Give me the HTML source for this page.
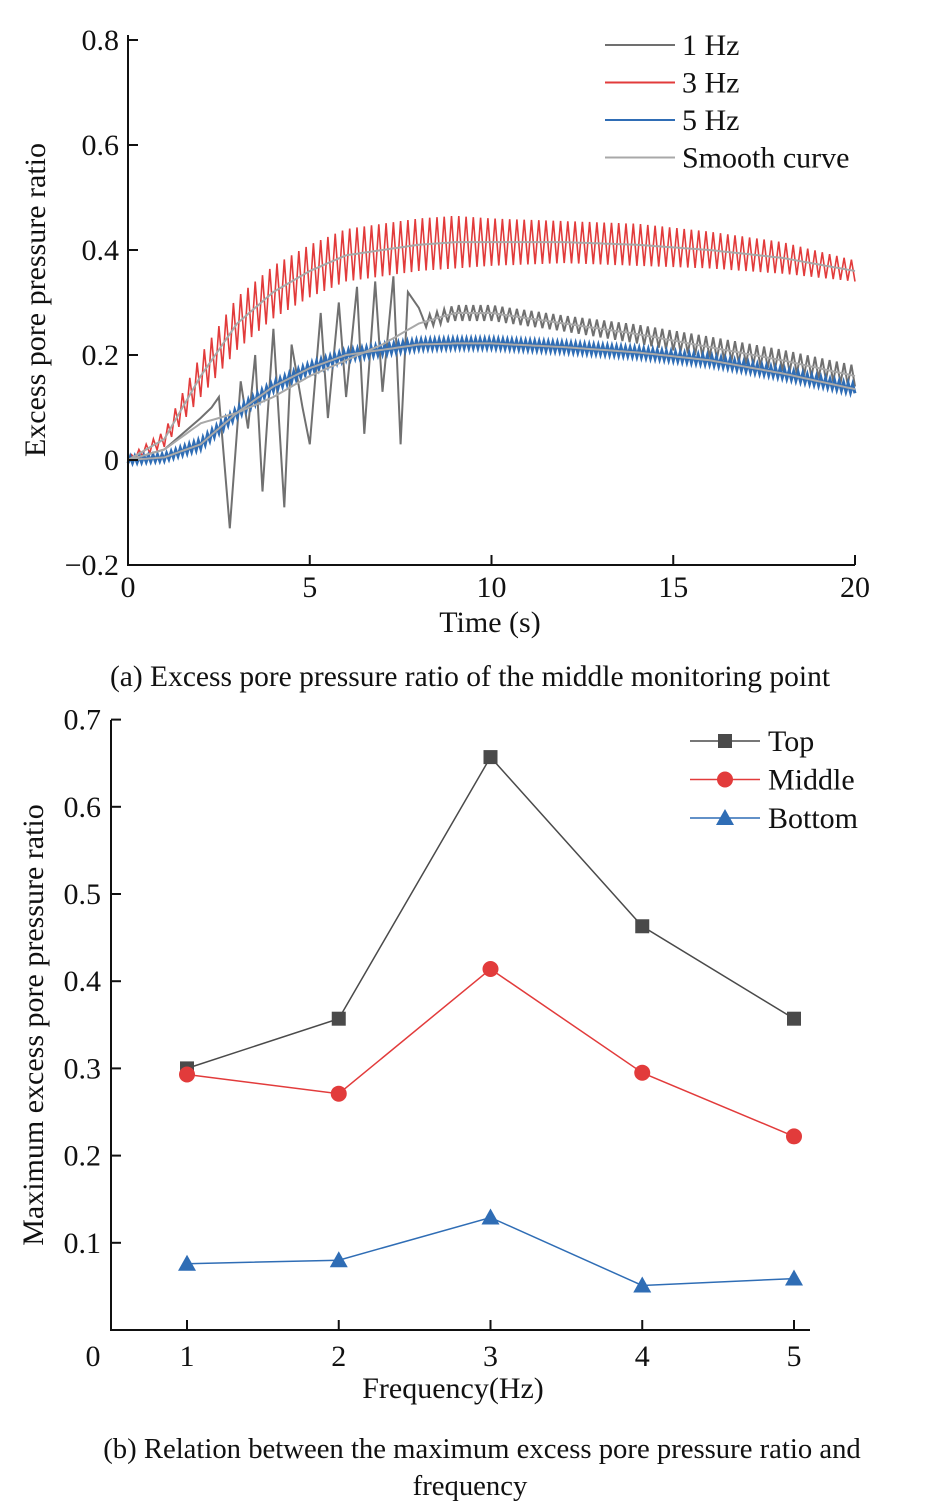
<!DOCTYPE html>
<html><head><meta charset="utf-8"><style>
body{margin:0;background:#fff}
svg{display:block;font-family:"Liberation Serif",serif}
</style></head><body>
<svg id="s" width="927" height="1505" viewBox="0 0 927 1505" xmlns="http://www.w3.org/2000/svg"></svg>
<script>
// ===== Chart (a) data =====
const smoothT=[0,1,2,3,4,5,6,7,8,9,10,12,14,16,18,20];
const smooth3=[0,0.04,0.16,0.26,0.32,0.36,0.39,0.40,0.41,0.415,0.415,0.415,0.41,0.40,0.385,0.36];
const smooth5=[0,0.005,0.03,0.09,0.14,0.175,0.20,0.21,0.22,0.222,0.222,0.215,0.205,0.19,0.165,0.135];
const smooth1=[0,0.02,0.07,0.09,0.12,0.16,0.19,0.22,0.26,0.28,0.28,0.26,0.24,0.215,0.19,0.16];
const amp3=[0.005,0.015,0.04,0.05,0.05,0.05,0.05,0.05,0.05,0.05,0.045,0.04,0.04,0.035,0.03,0.02];
const amp5=[0.006,0.006,0.008,0.008,0.008,0.008,0.008,0.008,0.008,0.008,0.008,0.008,0.008,0.008,0.008,0.008];
const amp1=[0.005,0.005,0.01,0.01,0.01,0.01,0.01,0.01,0.01,0.015,0.015,0.015,0.018,0.02,0.02,0.02];
const raw1T=[0,0.5,1,1.5,2,2.3,2.5,2.8,3.1,3.3,3.5,3.7,4.0,4.3,4.5,4.8,5.0,5.3,5.5,5.8,6.0,6.3,6.5,6.8,7.0,7.3,7.5,7.7,8.0];
const raw1V=[0,0.01,0.02,0.05,0.08,0.1,0.12,-0.13,0.15,0.06,0.2,-0.06,0.25,-0.09,0.22,0.1,0.03,0.28,0.08,0.3,0.12,0.33,0.05,0.34,0.13,0.35,0.03,0.32,0.29];
const xTicksA=[0,5,10,15,20];
const yTicksA=[0.8,0.6,0.4,0.2,0,-0.2];
const yTickLabA=["0.8","0.6","0.4","0.2","0","\u22120.2"];
// ===== Chart (b) data =====
const freqs=[1,2,3,4,5];
const topV=[0.300,0.357,0.657,0.463,0.357];
const midV=[0.293,0.271,0.414,0.295,0.222];
const botV=[0.076,0.080,0.129,0.051,0.059];
const yTicksB=[0.7,0.6,0.5,0.4,0.3,0.2,0.1];

const FS=30;
const NS="http://www.w3.org/2000/svg";
const svg=document.getElementById('s');
function el(tag,attrs,parent){const e=document.createElementNS(NS,tag);for(const k in attrs)e.setAttribute(k,attrs[k]);(parent||svg).appendChild(e);return e;}
function txt(s,x,y,size,anchor,parent){const t=el('text',{x:x,y:y,'font-size':size,'text-anchor':anchor||'middle',fill:'#111'},parent);t.textContent=s;return t;}

const xA=t=>128+t*(727/20);
const yA=v=>460-v*525;
function interp(T,V,t){for(let i=0;i<T.length-1;i++){if(t<=T[i+1]){const f=(t-T[i])/(T[i+1]-T[i]);return V[i]+f*(V[i+1]-V[i]);}}return V[V.length-1];}

const gA=el('g',{});



function noisy(base,amp,freq,color,name,w){
  let d='';const n=Math.round(20*freq*2);
  for(let i=0;i<=n;i++){const t=i*20/n;const s=(i%2?1:-1);const v=interp(smoothT,base,t)+s*interp(smoothT,amp,t);d+=(i?'L':'M')+xA(t).toFixed(1)+','+yA(v).toFixed(1);}
  const p=el('path',{d:d,fill:'none',stroke:color,'stroke-width':w||1.5},gA);
  
  
}
function smoothLine(V,name){
  let d='';for(let i=0;i<=200;i++){const t=i/10;d+=(i?'L':'M')+xA(t).toFixed(1)+','+yA(interp(smoothT,V,t)).toFixed(1);}
  const p=el('path',{d:d,fill:'none',stroke:'#a8a8a8','stroke-width':2},gA);
  
  
}
(function(){
  let d='';
  raw1T.forEach((t,i)=>{d+=(i?'L':'M')+xA(t).toFixed(1)+','+yA(raw1V[i]).toFixed(1);});
  const n=Math.round(12*10);
  for(let i=1;i<=n;i++){const t=8+i*12/n;const s=(i%2?1:-1);d+='L'+xA(t).toFixed(1)+','+yA(interp(smoothT,smooth1,t)+s*interp(smoothT,amp1,t)).toFixed(1);}
  const p=el('path',{d:d,fill:'none',stroke:'#707070','stroke-width':2},gA);
  
  
})();
noisy(smooth3,amp3,5,'#e23b3b','series-3hz',1.6);
noisy(smooth5,amp5,8,'#2f6db5','series-5hz',3);
smoothLine(smooth1,'smooth-curve-1hz');
smoothLine(smooth3,'smooth-curve-3hz');
smoothLine(smooth5,'smooth-curve-5hz');

const axA=el('path',{d:'M128,35V565H855',fill:'none',stroke:'#111','stroke-width':2},gA);


yTicksA.forEach((v,i)=>{
  const l=el('line',{x1:128,x2:138,y1:yA(v),y2:yA(v),stroke:'#111','stroke-width':2},gA);
  
  
  const t=txt(yTickLabA[i],119,yA(v)+10,FS,'end',gA);
  
  
});
xTicksA.forEach(v=>{
  const l=el('line',{x1:xA(v),x2:xA(v),y1:565,y2:555,stroke:'#111','stroke-width':2},gA);
  
  
  const t=txt(String(v),xA(v),597,FS,'middle',gA);
  
  
});
let t1=txt('Time (s)',490,632,FS,'middle',gA);

let t2=txt('Excess pore pressure ratio',0,0,FS,'middle',gA);
t2.setAttribute('transform','translate(45,300) rotate(-90)');

[['1 Hz','#707070'],['3 Hz','#e23b3b'],['5 Hz','#2f6db5'],['Smooth curve','#a8a8a8']].forEach((e,i)=>{
  const y=45+i*37.5;
  const l=el('line',{x1:605,x2:675,y1:y,y2:y,stroke:e[1],'stroke-width':2},gA);
  
  const t=txt(e[0],682,y+10,FS,'start',gA);
  
});
let c1=txt('(a) Excess pore pressure ratio of the middle monitoring point',470,686,29.5,'middle');


// ===== chart (b) =====
const gB=el('g',{});


const xB=f=>187+(f-1)*151.75;
const yB=v=>1330-v*872;
const axB=el('path',{d:'M111,720V1330H810',fill:'none',stroke:'#111','stroke-width':2},gB);

yTicksB.forEach(v=>{
  const l=el('line',{x1:111,x2:121,y1:yB(v),y2:yB(v),stroke:'#111','stroke-width':2},gB);
  
  const t=txt(v.toFixed(1),101,yB(v)+10,FS,'end',gB);
  
});
let z=txt('0',93,1366,FS,'middle',gB);

freqs.forEach(f=>{
  const l=el('line',{x1:xB(f),x2:xB(f),y1:1330,y2:1320,stroke:'#111','stroke-width':2},gB);
  
  const t=txt(String(f),xB(f),1366,FS,'middle',gB);
  
});
function marker(type,x,y,color,parent){
  let m;
  if(type==='sq')m=el('rect',{x:x-7,y:y-7,width:14,height:14,fill:color},parent);
  else if(type==='ci')m=el('circle',{cx:x,cy:y,r:8,fill:color},parent);
  else m=el('polygon',{points:`${x},${y-9} ${x+9},${y+7} ${x-9},${y+7}`,fill:color},parent);
  return m;
}
function seriesB(vals,color,type,name){
  const d=vals.map((v,i)=>(i?'L':'M')+xB(freqs[i])+','+yB(v).toFixed(1)).join('');
  const p=el('path',{d:d,fill:'none',stroke:color,'stroke-width':1.5},gB);
  
  vals.forEach((v,i)=>{const m=marker(type,xB(freqs[i]),yB(v),color,gB);
    
    });
}
seriesB(topV,'#4a4a4a','sq','top');
seriesB(midV,'#e23b3b','ci','middle');
seriesB(botV,'#2f6db5','tr','bottom');
[['Top','#4a4a4a','sq'],['Middle','#e23b3b','ci'],['Bottom','#2f6db5','tr']].forEach((e,i)=>{
  const y=741+i*38.5;
  const l=el('line',{x1:690,x2:760,y1:y,y2:y,stroke:e[1],'stroke-width':1.5},gB);
  
  const m=marker(e[2],725,y,e[1],gB);
  
  const t=txt(e[0],768,y+10,FS,'start',gB);
  
});
let t3=txt('Frequency(Hz)',453,1398,FS,'middle',gB);

let t4=txt('Maximum excess pore pressure ratio',0,0,FS,'middle',gB);
t4.setAttribute('transform','translate(43,1025) rotate(-90)');

let c2=txt('(b) Relation between the maximum excess pore pressure ratio and',482,1458,28.7,'middle');

let c3=txt('frequency',470,1495,28.7,'middle');

</script>
</body></html>
